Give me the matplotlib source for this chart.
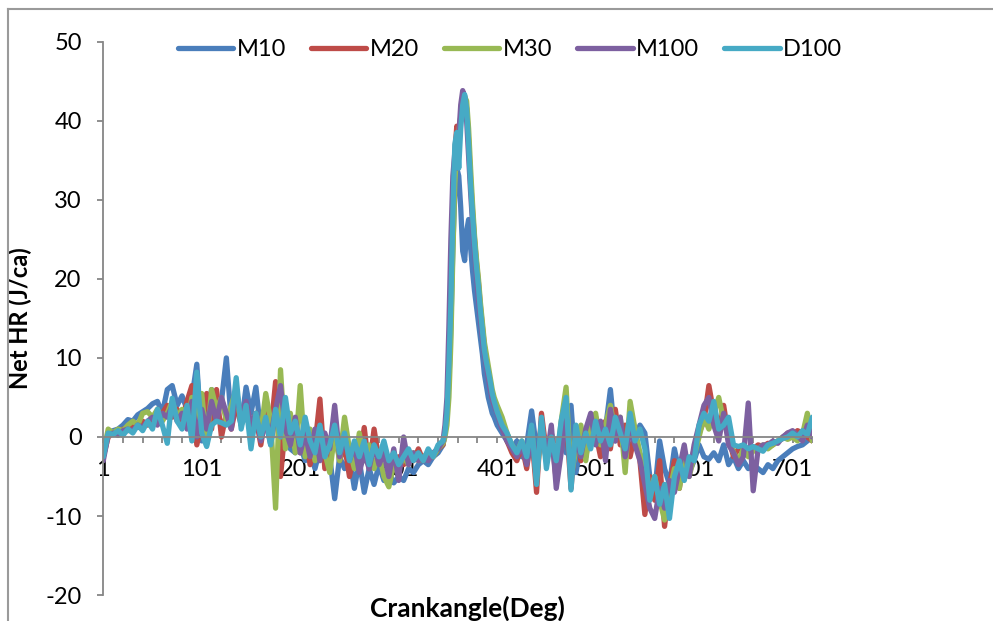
import matplotlib.pyplot as plt
import numpy as np
from matplotlib.lines import Line2D

plt.rcParams["font.family"] = ["Lato", "DejaVu Sans"]
plt.rcParams["axes.unicode_minus"] = False

# crank angle samples (deg): coarse outside combustion, finer around the peak
crank = np.concatenate([np.arange(1, 347, 5), np.arange(348, 399, 2), np.arange(401, 722, 5)])

m10 = [
    -2.5, 0.5, 0.8, 1.0, 1.5, 2.2, 2.0, 2.8, 3.2, 3.6,
    4.2, 4.5, 3.0, 6.0, 6.5, 4.0, 5.2, 3.5, 5.0, 9.2,
    -0.5, 2.5, 6.0, 3.0, 4.5, 10.0, 2.0, 4.0, 1.5, 6.3,
    3.0, 6.3, 0.5, 2.0, -1.0, 3.0, 0.5, 1.0, -1.5, -2.0,
    -1.0, -3.0, -2.0, -4.0, -1.5, -3.0, -2.5, -7.8, -2.5, -4.0,
    -2.5, -6.5, -3.0, -7.0, -4.0, -6.0, -3.5, -5.5, -4.5, -5.8,
    -5.0, -5.5, -4.0, -4.5, -3.5, -3.0, -3.5, -2.5, -2.0, -1.0,
    0.5, 3.0, 7.0, 14.0, 24.0, 31.0, 34.0, 33.0, 29.0, 23.5,
    22.3, 26.0, 27.5, 24.0, 21.0, 18.5, 16.5, 14.5, 12.5, 10.5,
    8.0, 6.5, 5.0, 4.0, 3.0, 2.5,
    1.5, 0.5, -0.5, -1.5, -0.5, -2.5, -1.0, 3.3, -1.5, 1.0,
    -3.0, 0.5, -4.0, 1.0, -2.0, 4.0, -4.5, -1.0, -2.5, 1.0,
    2.5, -1.0, 1.0, 6.0, -0.5, 2.0, -1.5, 1.0, -0.5, 1.5,
    0.5, -5.0, -7.0, -0.5, -4.0, -6.0, -1.5, -4.5, -2.5, -4.5,
    -3.0, -1.0, -2.5, -2.8, -2.0, -3.0, -1.0, -3.5, -2.5, -4.0,
    -3.0, -4.0, -3.5, -4.0, -4.5, -3.5, -4.0, -3.0, -2.5, -2.0,
    -1.5, -1.2, -1.0, -0.5, 0.0,
]

m20 = [
    -2.5, 0.0, 0.5, 0.3, 1.0, 0.8, 1.5, 1.2, 2.0, 1.5,
    2.5, 2.0, 3.0, 4.0, 2.5, 3.5, 2.0, 4.5, 6.5, -1.0,
    2.0, 5.5, 1.0, 6.0, 0.0, 3.0, 1.0, 4.0, 2.0, 3.5,
    0.5, 2.5, -1.0, 3.0, 0.5, 7.0, -5.0, 1.5, -1.0, 1.0,
    -2.0, 0.5, -3.5, -1.0, 4.8, -4.0, -1.0, 1.5, -3.0, -1.0,
    -5.0, -2.0, -3.5, 1.2, -4.0, 1.0, -3.0, -1.5, -4.0, -3.0,
    -2.5, -3.5, -2.0, -3.0, -1.5, -3.0, -2.0, -2.5, -1.5, -1.0,
    0.5, 2.5, 8.0, 17.0, 28.0, 36.0, 39.3, 38.0, 40.5, 42.5,
    43.0, 41.5, 37.5, 32.5, 28.5, 25.0, 22.0, 19.5, 16.5, 14.0,
    11.5, 9.5, 8.0, 6.5, 5.0, 4.2,
    3.5, 1.5, -0.5, -2.0, -3.0, -1.0, -4.0, 0.5, -7.0, 3.0,
    -2.0, 0.5, -5.5, -1.0, 2.5, -6.5, 1.0, -3.0, 0.5, 2.5,
    0.5, -2.5, 2.0, -1.5, 3.5, -1.0, 1.5, -2.5, 0.5, -3.0,
    -9.8, -5.0, -8.0, -3.0, -11.3, -6.0, -3.0, -6.5, -2.0, -4.5,
    -1.5, 0.5, 2.0, 6.5, 3.0, 0.5, 4.0, 0.0, -2.5, -1.5,
    -1.0, -2.0, -1.5, -1.0, -1.2, -0.8, -1.0, -0.5, -0.2, 0.5,
    0.2, 0.8, 0.5, 0.0, -0.5,
]

m30 = [
    -2.0, 1.0, 0.5, 1.0, 0.8, 1.5, 2.0, 1.5, 3.0, 3.2,
    2.5, 3.5, 2.0, 3.0, 4.5, 2.5, 3.5, 1.5, 5.0, 2.5,
    5.5, -1.0, 6.0, 3.5, 5.0, 2.0, 4.0, 6.0, 1.5, 3.0,
    1.0, 3.0, 0.5, 5.5, 2.0, -9.0, 8.5, -1.5, 3.0, -2.0,
    6.5, -2.5, 1.0, -3.0, 0.0, -2.0, -4.5, 0.5, -3.0, 2.5,
    -1.5, -4.0, 0.5, -3.0, -1.0, -4.0, -2.0, -5.0, -6.3, -3.5,
    -4.0, -2.5, -3.5, -2.0, -3.0, -2.5, -2.0, -2.5, -1.5, -0.8,
    0.0, 1.5, 5.0, 12.0, 23.0, 32.0, 36.5, 38.5, 40.5, 42.0,
    43.0, 42.5, 39.0, 34.0, 29.5, 25.5, 22.5, 20.0, 17.0, 14.5,
    12.0, 10.5, 9.0, 7.5, 6.0, 5.0,
    4.0, 2.5, 0.5, -1.0, -2.0, -0.5, -3.0, 1.0, -5.5, 1.5,
    -2.5, 0.5, -4.0, 2.0, 6.3, -5.0, -1.5, 1.5, -3.0, 2.0,
    3.0, -1.0, 1.5, 4.0, 0.5, 2.5, -4.5, 4.5, 1.0, -2.0,
    -4.0, -7.0, -5.0, -8.0, -10.5, -7.0, -4.0, -6.5, -3.0, -5.0,
    -2.5, 0.0, 2.5, 1.0, 3.0, 5.0, 2.0, 0.5, -2.0, -3.0,
    -1.5, -2.5, -1.8, -1.5, -1.0, -1.5, -1.0, -0.5, 0.0, -0.3,
    0.0, -0.5, 0.3, 3.0, -0.5,
]

m100 = [
    -3.0, 0.3, 0.5, 0.2, 0.8, 1.0, 0.8, 1.5, 1.2, 2.0,
    2.5, 1.5, 3.0, 2.5, 4.0, 2.0, 3.0, 1.0, 4.5, 0.0,
    3.5, 1.0, 4.5, 2.0, 5.0, 3.0, 1.0, 6.0, 2.5, 4.5,
    1.5, 3.0, -0.5, 2.0, 0.0, 3.5, 6.5, 1.0, -1.0, 2.5,
    -2.0, 0.5, -2.5, 1.0, -3.0, 0.5, -1.5, 4.0, -2.5, 0.0,
    -3.0, -1.0, -4.5, -2.0, -4.0, -1.0, -3.5, -2.0, -5.0, -1.5,
    -5.5, 0.0, -3.5, -2.0, -3.0, -2.5, -3.0, -2.0, -1.5, -0.5,
    1.5, 5.0, 14.0, 25.0, 33.0, 36.0, 34.0, 38.0, 42.0, 43.8,
    43.0, 40.0, 35.5, 31.0, 27.0, 23.5, 20.5, 17.5, 15.0, 12.5,
    10.5, 9.0, 7.5, 6.0, 4.8, 4.0,
    3.0, 1.0, -0.5, -1.5, -2.5, -1.0, -3.5, 0.0, -5.0, 2.0,
    -3.0, 1.5, -6.5, -2.0, 3.0, -5.0, 0.0, -2.5, 1.0, 3.0,
    -1.0, 2.0, -3.0, 3.5, -0.5, 2.5, -2.5, 1.0, -1.0, -3.0,
    -6.0, -9.0, -10.3, -6.5, -9.0, -5.5, -7.0, -4.0, -1.0, -5.0,
    -1.0, 1.5, 4.0, 5.0, 1.5, -0.5, 3.0, -1.0, -2.0, -3.5,
    -2.5, 4.3, -6.8, -1.5, -1.0, -1.0, -0.5, -0.8, 0.0, 0.5,
    0.8, 0.2, -0.5, 1.5, 0.0,
]

d100 = [
    -2.5, 0.5, 0.3, 0.8, 0.2, 1.0, 0.5, 1.5, 0.8, 2.0,
    1.0, 3.5, 1.5, -0.8, 4.9, 2.0, 1.0, 4.0, -0.5, 8.2,
    0.5, -1.2, 1.5, 2.0, 1.8, 1.5, 2.0, 7.5, 1.0, 4.0,
    -1.5, 3.0, 0.0, 2.5, -1.0, 3.5, 0.0, 5.0, 0.5, 2.0,
    -1.0, 2.5, -0.5, -2.0, 1.5, -2.5, -1.0, 1.5, -2.0, 0.5,
    -3.0, -0.5, -2.5, -0.5, -3.5, -1.0, -2.5, -0.5, -3.0, -2.0,
    -3.5, -2.5, -1.5, -3.0, -2.0, -3.0, -1.5, -2.5, -1.0, -0.5,
    0.5, 3.0, 9.0, 17.0, 28.0, 37.0, 38.5, 34.0, 39.0, 42.0,
    43.3, 41.5, 37.0, 32.0, 28.0, 24.5, 21.5, 19.0, 16.0, 13.5,
    11.0, 9.5, 8.3, 7.0, 5.5, 4.5,
    3.2, 1.5, 0.5, -1.0, -2.0, -0.5, -2.5, 1.5, -6.0, 2.5,
    -4.0, 0.0, -3.0, 2.0, 5.0, -6.7, 1.5, -2.0, 0.5, -1.5,
    2.0, -0.5, 1.0, -1.0, 2.5, 0.5, -1.5, 3.0, -0.5, 1.0,
    -1.5, -8.0, -5.0, -8.5, -6.0, -10.3, -5.0, -3.0, -5.5, -2.5,
    -3.0, 1.5, 3.0, 2.0, 4.5, 1.0, 1.5, 2.5, -1.0, -1.2,
    -1.0, -1.5, -1.2, -1.5, -1.8, -1.0, -0.8, -0.5, -0.2, 0.0,
    0.5, 0.0, 0.8, 0.3, 2.5,
]

names = ["M10", "M20", "M30", "M100", "D100"]
colors = ["#4A7EBB", "#BE4B48", "#98B954", "#7D60A0", "#46AAC5"]

fig = plt.figure(figsize=(9.93, 6.21), dpi=100)
ax = fig.add_axes([0.104, 0.0416, 0.714, 0.8915])

for name, ys, c in zip(names, [m10, m20, m30, m100, d100], colors):
    ax.plot(crank, ys, color=c, lw=3.8, label=name,
            solid_joinstyle="round", solid_capstyle="round")

ax.set_xlim(1, 721)
ax.set_ylim(-20, 50)
ax.set_yticks(np.arange(-20, 51, 10))
ax.set_xticks(np.arange(1, 722, 20))
ax.set_xticklabels([str(v) if (v - 1) % 100 == 0 else "" for v in range(1, 722, 20)])

grey = "#868686"
for s in ["top", "right"]:
    ax.spines[s].set_visible(False)
ax.spines["bottom"].set_position(("data", 0))
ax.spines["bottom"].set_color(grey)
ax.spines["left"].set_color(grey)
ax.spines["bottom"].set_linewidth(1.3)
ax.spines["left"].set_linewidth(1.3)
ax.tick_params(axis="x", direction="out", length=4.5, width=1.3, color=grey,
               labelsize=17, pad=11)
ax.tick_params(axis="y", direction="out", length=4.5, width=1.3, color=grey,
               labelsize=17, pad=11)

ax.set_ylabel("Net HR (J/ca)", fontweight="bold", fontsize=17)
ax.yaxis.set_label_coords(-0.1, 0.5)
fig.text(0.471, 0.021, "Crankangle(Deg)", ha="center", va="center",
         fontsize=19, fontweight="bold")

fig.legend(loc="center", bbox_to_anchor=(0.5136, 0.9195), ncol=5, frameon=False,
           fontsize=17, handlelength=2.35, handletextpad=0.15, columnspacing=1.05)

# outer chart border (left and top edges visible)
fig.add_artist(Line2D([8 / 993, 8 / 993], [0, 1 - 9 / 621], color="#9a9a9a", lw=1.5))
fig.add_artist(Line2D([8 / 993, 1], [1 - 9 / 621, 1 - 9 / 621], color="#9a9a9a", lw=1.5))

plt.savefig("out.png", dpi=100)
